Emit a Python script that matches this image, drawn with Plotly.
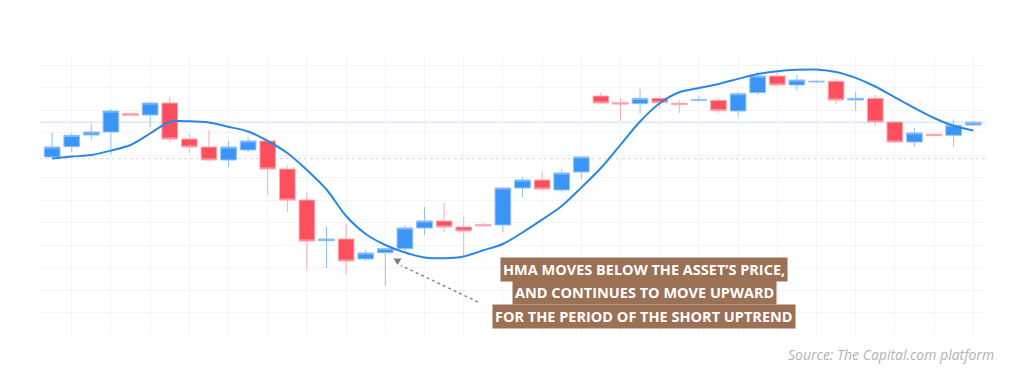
import plotly.graph_objects as go

# Candle index (time) and OHLC prices
idx = list(range(48))
opens = [143, 153.3, 165, 168, 186.3, 185, 197, 161, 153, 140, 150, 159, 131, 100, 59.3, 61,
         41, 47.3, 51.3, 72, 79, 73, 75.3, 75, 112, 120, 110, 128, 204, 197.3, 196.3, 201.7,
         196.7, 199.7, 199.7, 189, 207.3, 224, 215, 218, 218.7, 200, 201.7, 178, 158, 165.7, 164.7, 175]
highs = [167, 167, 176, 191, 187, 198, 203, 166, 170, 159, 163, 160, 134, 108, 73, 76,
         50, 52, 75, 93, 97, 83, 77.3, 113, 123, 128, 131, 143, 208, 202, 211, 204.3,
         200, 204, 201.7, 208.3, 228.3, 228, 225, 220, 220.7, 208, 205, 179.3, 172, 166, 180.7, 179.3]
lows = [142, 148, 160, 145, 184, 173, 158, 147, 139, 133, 148, 105, 88, 30, 32, 26,
        39, 14, 47, 65, 68, 43, 73.3, 68, 103, 109, 108, 121, 196, 179, 186, 191.7,
        187, 198.3, 187.3, 183.3, 205, 213, 209, 217.3, 195.7, 189.3, 174, 156.7, 153, 164, 153.3, 173.7]
closes = [153, 164.7, 168, 189, 184.7, 197, 161, 153, 140, 153, 159, 131, 100, 59, 61, 39,
          47, 51.3, 72, 79, 73, 69, 74.3, 112, 120, 111, 127, 143, 197, 196, 201.7, 197.3,
          195.3, 200.3, 189.3, 206.3, 224, 215, 220, 218.7, 200, 201.7, 178, 158, 167, 164.3, 174.7, 177.7]
hma = [141.5, 143.4, 145, 149.4, 155, 166.5, 178.2, 178.7, 177.5, 173.2, 168.5, 159, 147, 130,
       110.5, 84, 66, 55, 47.5, 42.5, 41.7, 43.5, 49.7, 56, 67.5, 80.3, 94, 112.4, 132, 155.2,
       178.5, 196.7, 207.7, 212, 216, 221.1, 226, 228.7, 230.2, 230.5, 228, 222.1, 213.5, 202.7,
       192, 182, 174.2, 169.5]

current_price_level = 177.7
dotted_level = 141.3

note_lines = ["HMA MOVES BELOW THE ASSET’S PRICE,",
              "AND CONTINUES TO MOVE UPWARD",
              "FOR THE PERIOD OF THE SHORT UPTREND"]
source_text = "Source: The Capital.com platform"

UP = "#3b95f7"
DOWN = "#fe4f5e"
BROWN = "#9b7156"

# pixel layout helpers
L, R, T, B = 40, 985, 55, 335
W, H = 1024, 383
def px(x):
    return (x - L) / (R - L)
def py(y):
    return (B - y) / (B - T)

fig = go.Figure()
fig.add_trace(go.Candlestick(
    x=idx, open=opens, high=highs, low=lows, close=closes,
    increasing=dict(fillcolor=UP, line=dict(color="#8fc1fa", width=1)),
    decreasing=dict(fillcolor=DOWN, line=dict(color="#ffa9b0", width=1)),
    whiskerwidth=0, showlegend=False, hoverinfo="skip"))
fig.add_trace(go.Scatter(
    x=idx, y=hma, mode="lines", line=dict(color="#2a87e9", width=2, shape="spline", smoothing=0.8),
    showlegend=False, hoverinfo="skip"))

fig.add_hline(y=current_price_level, line=dict(color="#e2edfc", width=2), layer="below")
fig.add_hline(y=dotted_level, line=dict(color="#d6d6d6", width=1, dash="dot"), layer="below")

# arrow (dotted) towards the crossing candle
fig.add_shape(type="line", xref="paper", yref="paper",
              x0=px(478), y0=py(302), x1=px(401), y1=py(265.5),
              line=dict(color="#8a8a8a", width=1.5, dash="dot"))
fig.add_shape(type="path", xref="paper", yref="paper",
              path=f"M {px(393.5)} {py(258.5)} L {px(401.5)} {py(258.5)} L {px(397.5)} {py(265)} Z",
              fillcolor="#7d7d7d", line=dict(width=0))

centers_y = [269, 292.5, 316]
for txt, cy in zip(note_lines, centers_y):
    fig.add_annotation(xref="paper", yref="paper", x=px(644), y=py(cy),
                       text=f"<b>{txt}</b>", showarrow=False, xanchor="center", yanchor="middle",
                       bgcolor=BROWN, borderpad=2,
                       font=dict(family="Open Sans", size=14.5, color="white"))

fig.add_annotation(xref="paper", yref="paper", x=px(996), y=py(354),
                   text=f"<i>{source_text}</i>", showarrow=False, xanchor="right", yanchor="middle",
                   font=dict(family="Open Sans", size=14, color="#b3b3b3"))

fig.update_layout(
    width=W, height=H, margin=dict(l=L, r=W - R, t=T, b=H - B),
    paper_bgcolor="white", plot_bgcolor="white",
    boxgap=0.2, boxgroupgap=0,
    xaxis=dict(range=[-0.62, 47.6], showticklabels=False, ticks="", zeroline=False,
               showgrid=True, gridcolor="#f3f4f6", tick0=1, dtick=2, rangeslider=dict(visible=False),
               fixedrange=True),
    yaxis=dict(range=[-35, 245], showticklabels=False, ticks="", zeroline=False,
               showgrid=True, gridcolor="#f3f4f6", tick0=10, dtick=22.5, fixedrange=True),
)

fig.write_html("out.html", config={"displayModeBar": False},
               post_script="document.body.style.margin='0';document.body.style.overflow='hidden';")
